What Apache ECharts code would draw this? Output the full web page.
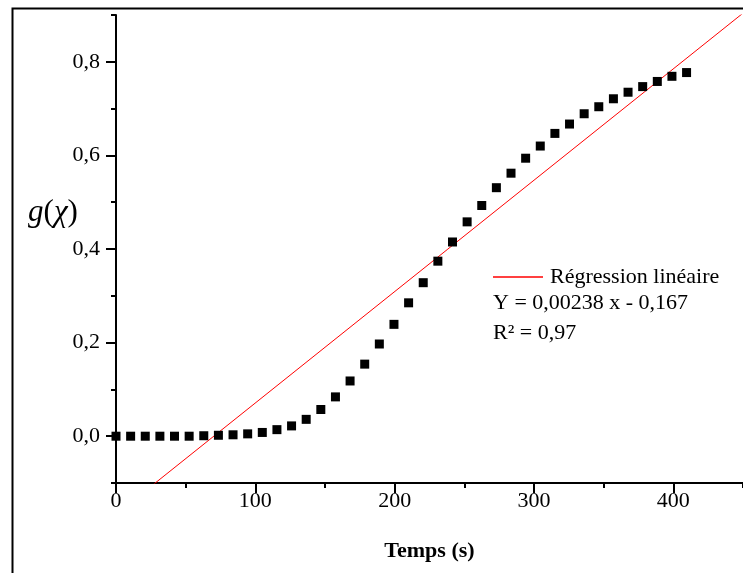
<!DOCTYPE html>
<html>
<head>
<meta charset="utf-8">
<script src="https://cdn.jsdelivr.net/npm/echarts@6/dist/echarts.min.js"></script>
<style>
html,body{margin:0;padding:0;background:#fff;}
#c{width:743px;height:573px;}
</style>
</head>
<body>
<div id="c"></div>
<script>
var times = [0, 10.5, 21, 31.5, 42, 52.5, 63, 73.5, 84, 94.5, 105, 115.5, 126, 136.5, 147, 157.5, 168, 178.5, 189, 199.5, 210, 220.5, 231, 241.5, 252, 262.5, 273, 283.5, 294, 304.5, 315, 325.5, 336, 346.5, 357, 367.5, 378, 388.5, 399, 409.5];
var gValues = [0.000, 0.000, 0.000, 0.000, 0.000, 0.000, 0.001, 0.002, 0.003, 0.005, 0.008, 0.014, 0.022, 0.036, 0.057, 0.084, 0.118, 0.154, 0.197, 0.239, 0.285, 0.328, 0.374, 0.415, 0.458, 0.493, 0.531, 0.562, 0.594, 0.620, 0.647, 0.667, 0.689, 0.704, 0.721, 0.735, 0.747, 0.758, 0.769, 0.777];
var regression = [0.00238, -0.167]; // slope, intercept
var regressionX = [0, 450];
var xMajorTicks = [0, 100, 200, 300, 400];
var xMinorTicks = [50, 150, 250, 350, 450];
var yMajorTicks = [0, 0.2, 0.4, 0.6, 0.8];
var legendLabel = 'Régression linéaire';
var equationText = 'Y = 0,00238 x - 0,167';
var r2Text = 'R² = 0,97';

var FONT = '"Liberation Serif", "Times New Roman", serif';
var chart = echarts.init(document.getElementById('c'));

var scatterData = times.map(function (t, i) { return [t, gValues[i]]; });
var lineData = regressionX.map(function (x) { return [x, regression[0] * x + regression[1]]; });

var common = {
  type: 'value', min: 0, max: 450, gridIndex: 0, position: 'bottom',
  splitLine: { show: false }
};

chart.setOption({
  animation: false,
  backgroundColor: '#fff',
  grid: { left: 116, right: 0, top: 15, bottom: 90, containLabel: false },
  legend: {
    data: [legendLabel],
    left: 493, top: 266, padding: 0,
    icon: 'rect', itemWidth: 50, itemHeight: 1.5, itemGap: 0,
    textStyle: { fontFamily: FONT, fontSize: 22, color: '#000', padding: [0, 0, 0, 2] }
  },
  xAxis: [
    Object.assign({}, common, {
      name: 'Temps (s)', nameLocation: 'middle', nameGap: 57,
      nameTextStyle: { fontFamily: FONT, fontSize: 22, fontWeight: 'bold', color: '#000' },
      axisLine: { show: true, onZero: false, lineStyle: { color: '#000', width: 2 } },
      axisTick: { show: true, inside: false, length: 10, customValues: xMajorTicks, lineStyle: { color: '#000', width: 2 } },
      axisLabel: { show: true, customValues: xMajorTicks, margin: 7, fontFamily: FONT, fontSize: 22, color: '#000' }
    }),
    Object.assign({}, common, {
      axisLine: { show: false, onZero: false },
      axisTick: { show: true, inside: false, length: 5, customValues: xMinorTicks, lineStyle: { color: '#000', width: 2 } },
      axisLabel: { show: false }
    })
  ],
  yAxis: [
    {
      type: 'value', min: -0.1, max: 0.9, gridIndex: 0, position: 'left',
      splitLine: { show: false },
      axisLine: { show: true, onZero: false, lineStyle: { color: '#000', width: 2 } },
      axisTick: { show: true, inside: false, length: 10, customValues: yMajorTicks, lineStyle: { color: '#000', width: 2 } },
      axisLabel: {
        show: true, customValues: yMajorTicks, margin: 16, fontFamily: FONT, fontSize: 22, color: '#000',
        formatter: function (v) { return v.toFixed(1).replace('.', ','); }
      }
    },
    {
      type: 'value', min: -0.1, max: 0.9, interval: 0.1, gridIndex: 0, position: 'left',
      splitLine: { show: false },
      axisLine: { show: false, onZero: false },
      axisTick: { show: true, inside: false, length: 5, lineStyle: { color: '#000', width: 2 } },
      axisLabel: { show: false }
    }
  ],
  series: [
    {
      name: 'g', type: 'scatter', xAxisIndex: 0, yAxisIndex: 0,
      data: scatterData, symbol: 'rect', symbolSize: 9,
      itemStyle: { color: '#000', opacity: 1 }, z: 3
    },
    {
      name: legendLabel, type: 'line', xAxisIndex: 0, yAxisIndex: 0,
      data: lineData, showSymbol: false, symbol: 'none', clip: true,
      lineStyle: { color: '#ff0000', width: 1 }, itemStyle: { color: '#ff0000' }, z: 2
    }
  ],
  graphic: [
    {
      type: 'rect', left: 10, top: 6, silent: true,
      shape: { x: 0, y: 0, width: 800, height: 640 },
      style: { fill: 'none', stroke: '#000', lineWidth: 2 }
    },
    {
      type: 'text', x: 53, y: 213, silent: true,
      style: {
        text: '{i|g}{n|(}{i|χ}{n|)}',
        align: 'center', verticalAlign: 'middle',
        rich: {
          i: { fontFamily: FONT, fontSize: 31, fontStyle: 'italic', fill: '#000' },
          n: { fontFamily: FONT, fontSize: 31, fill: '#000' }
        }
      }
    },
    {
      type: 'text', x: 493, y: 303, silent: true,
      style: { text: equationText, fontFamily: FONT, fontSize: 22, fill: '#000', verticalAlign: 'middle' }
    },
    {
      type: 'text', x: 493, y: 333, silent: true,
      style: { text: r2Text, fontFamily: FONT, fontSize: 22, fill: '#000', verticalAlign: 'middle' }
    }
  ]
});
</script>
</body>
</html>
